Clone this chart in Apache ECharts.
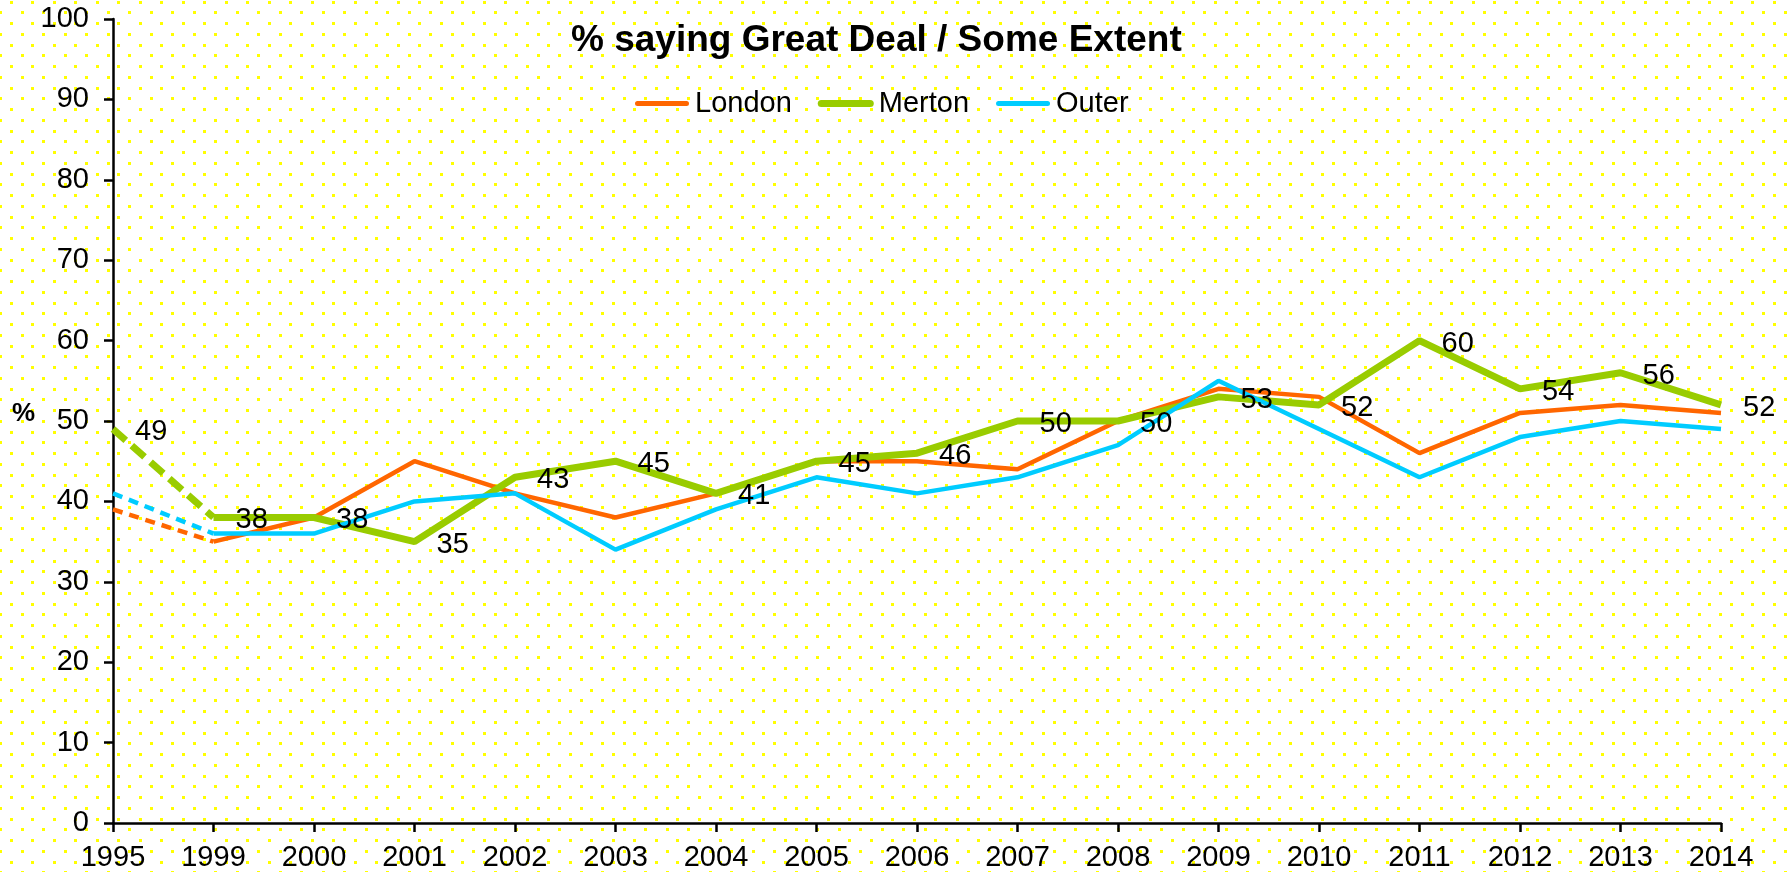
<!DOCTYPE html>
<html>
<head>
<meta charset="utf-8">
<script src="https://cdn.jsdelivr.net/npm/echarts@6/dist/echarts.min.js"></script>
<style>
html,body{margin:0;padding:0;background:#fff;}
#chart{width:1791px;height:872px;}
</style>
</head>
<body>
<div id="chart"></div>
<script>
const years = ['1995','1999','2000','2001','2002','2003','2004','2005','2006','2007','2008','2009','2010','2011','2012','2013','2014'];
const london = [39,35,38,45,41,38,41,45,45,44,50,54,53,46,51,52,51];
const merton = [49,38,38,35,43,45,41,45,46,50,50,53,52,60,54,56,52];
const outer  = [41,36,36,40,41,34,39,43,41,43,47,55,49,43,48,50,49];
const yTicks = [0,10,20,30,40,50,60,70,80,90,100];

const FONT = 'Liberation Sans, Arial, sans-serif';
const C_LON = '#FF6600', C_MER = '#99CC00', C_OUT = '#00CCFF';

function dashedPart(arr){ return arr.map((v,i)=> i<=1 ? v : null); }
function solidPart(arr){ return arr.map((v,i)=> i>=1 ? v : null); }

// legend icons: rounded bars inside a 56x7 box (thin and thick)
const ICON_THICK = 'path://M3.5,0h49a3.5,3.5 0 0 1 0,7h-49a3.5,3.5 0 0 1 0,-7z';
const ICON_THIN = 'path://M0,0h0.01v0.01h-0.01z M55.99,6.99h0.01v0.01h-0.01z M3.5,1h49a2.5,2.5 0 0 1 0,5h-49a2.5,2.5 0 0 1 0,-5z';

// dotted background tile
const tile = document.createElement('canvas');
tile.width = 43; tile.height = 43;
const tc = tile.getContext('2d');
tc.fillStyle = '#ffffff'; tc.fillRect(0,0,43,43);
tc.fillStyle = '#FFFF00';
for (let i=-1;i<3;i++){ for (let j=-1;j<3;j++){
  tc.fillRect(Math.round(10.75 + 21.5*i) - 1, Math.round(1.5 + 21.5*j) - 1, 3, 3);
  tc.fillRect(Math.round(21.5*i) - 1, Math.round(12.25 + 21.5*j) - 1, 3, 3);
}}

const chart = echarts.init(document.getElementById('chart'), null, {renderer:'canvas'});
chart.setOption({
  backgroundColor: {image: tile, repeat: 'repeat'},
  animation: false,
  title: {
    text: '% saying Great Deal / Some Extent',
    left: 566, top: 17,
    textStyle: {fontFamily: FONT, fontSize: 37, fontWeight: 'bold', color: '#000'}
  },
  graphic: [{
    type: 'text', left: 12, top: 401,
    style: {text: '%', font: 'bold 26px Liberation Sans, Arial, sans-serif', fill: '#000'}
  }],
  legend: {
    data: [
      {name:'London', icon:ICON_THIN, itemStyle:{color:C_LON}},
      {name:'Merton', icon:ICON_THICK, itemStyle:{color:C_MER}},
      {name:'Outer', icon:ICON_THIN, itemStyle:{color:C_OUT}}
    ],
    left: 629, top: 84,
    itemWidth: 56, itemHeight: 7, itemGap: 26,
    textStyle: {fontFamily: FONT, fontSize: 29, color: '#000'}
  },
  grid: {left: 113, right: 70, top: 19, bottom: 49, containLabel: false},
  xAxis: {
    type: 'category', data: years, boundaryGap: false,
    axisLine: {lineStyle: {color: '#000', width: 2.5}},
    axisTick: {show: true, length: 9, lineStyle: {color:'#000', width: 2.5}, alignWithLabel: true},
    axisLabel: {fontFamily: FONT, fontSize: 29, color: '#000', margin: 20, interval: 0}
  },
  yAxis: {
    type: 'value', min: 0, max: 100, interval: 10,
    axisLine: {show: true, lineStyle: {color: '#000', width: 2.5}},
    axisTick: {show: true, length: 9, lineStyle: {color:'#000', width: 2.5}},
    splitLine: {show: false},
    axisLabel: {fontFamily: FONT, fontSize: 29, color: '#000', margin: 24,
      formatter: v => yTicks.includes(v) ? String(v) : ''}
  },
  series: [
    {name:'London', type:'line', data: solidPart(london), symbol:'none',
     lineStyle:{color:C_LON, width:4.5}, itemStyle:{color:C_LON}, z:2},
    {name:'London d', type:'line', data: dashedPart(london), symbol:'none',
     lineStyle:{color:C_LON, width:4.5, type:[10,7]}, itemStyle:{color:C_LON}, z:2},
    {name:'Merton', type:'line', data: solidPart(merton), symbol:'none',
     lineStyle:{color:C_MER, width:7}, itemStyle:{color:C_MER}, z:3},
    {name:'Merton d', type:'line', data: dashedPart(merton), symbol:'none',
     lineStyle:{color:C_MER, width:7, type:[17,8]}, itemStyle:{color:C_MER}, z:3},
    {name:'Outer', type:'line', data: solidPart(outer), symbol:'none',
     lineStyle:{color:C_OUT, width:4.5}, itemStyle:{color:C_OUT}, z:4},
    {name:'Outer d', type:'line', data: dashedPart(outer), symbol:'none',
     lineStyle:{color:C_OUT, width:4.5, type:[10,7]}, itemStyle:{color:C_OUT}, z:4},
    {name:'Merton labels', type:'line', data: merton, symbol:'circle', symbolSize:2,
     showSymbol:true, silent:true,
     lineStyle:{width:0, opacity:0}, itemStyle:{color:'rgba(0,0,0,0)'}, z:10,
     label:{show:true, position:'right', distance:21, offset:[0,3],
       fontFamily: FONT, fontSize: 29, color:'#000'}}
  ]
});
</script>
</body>
</html>
